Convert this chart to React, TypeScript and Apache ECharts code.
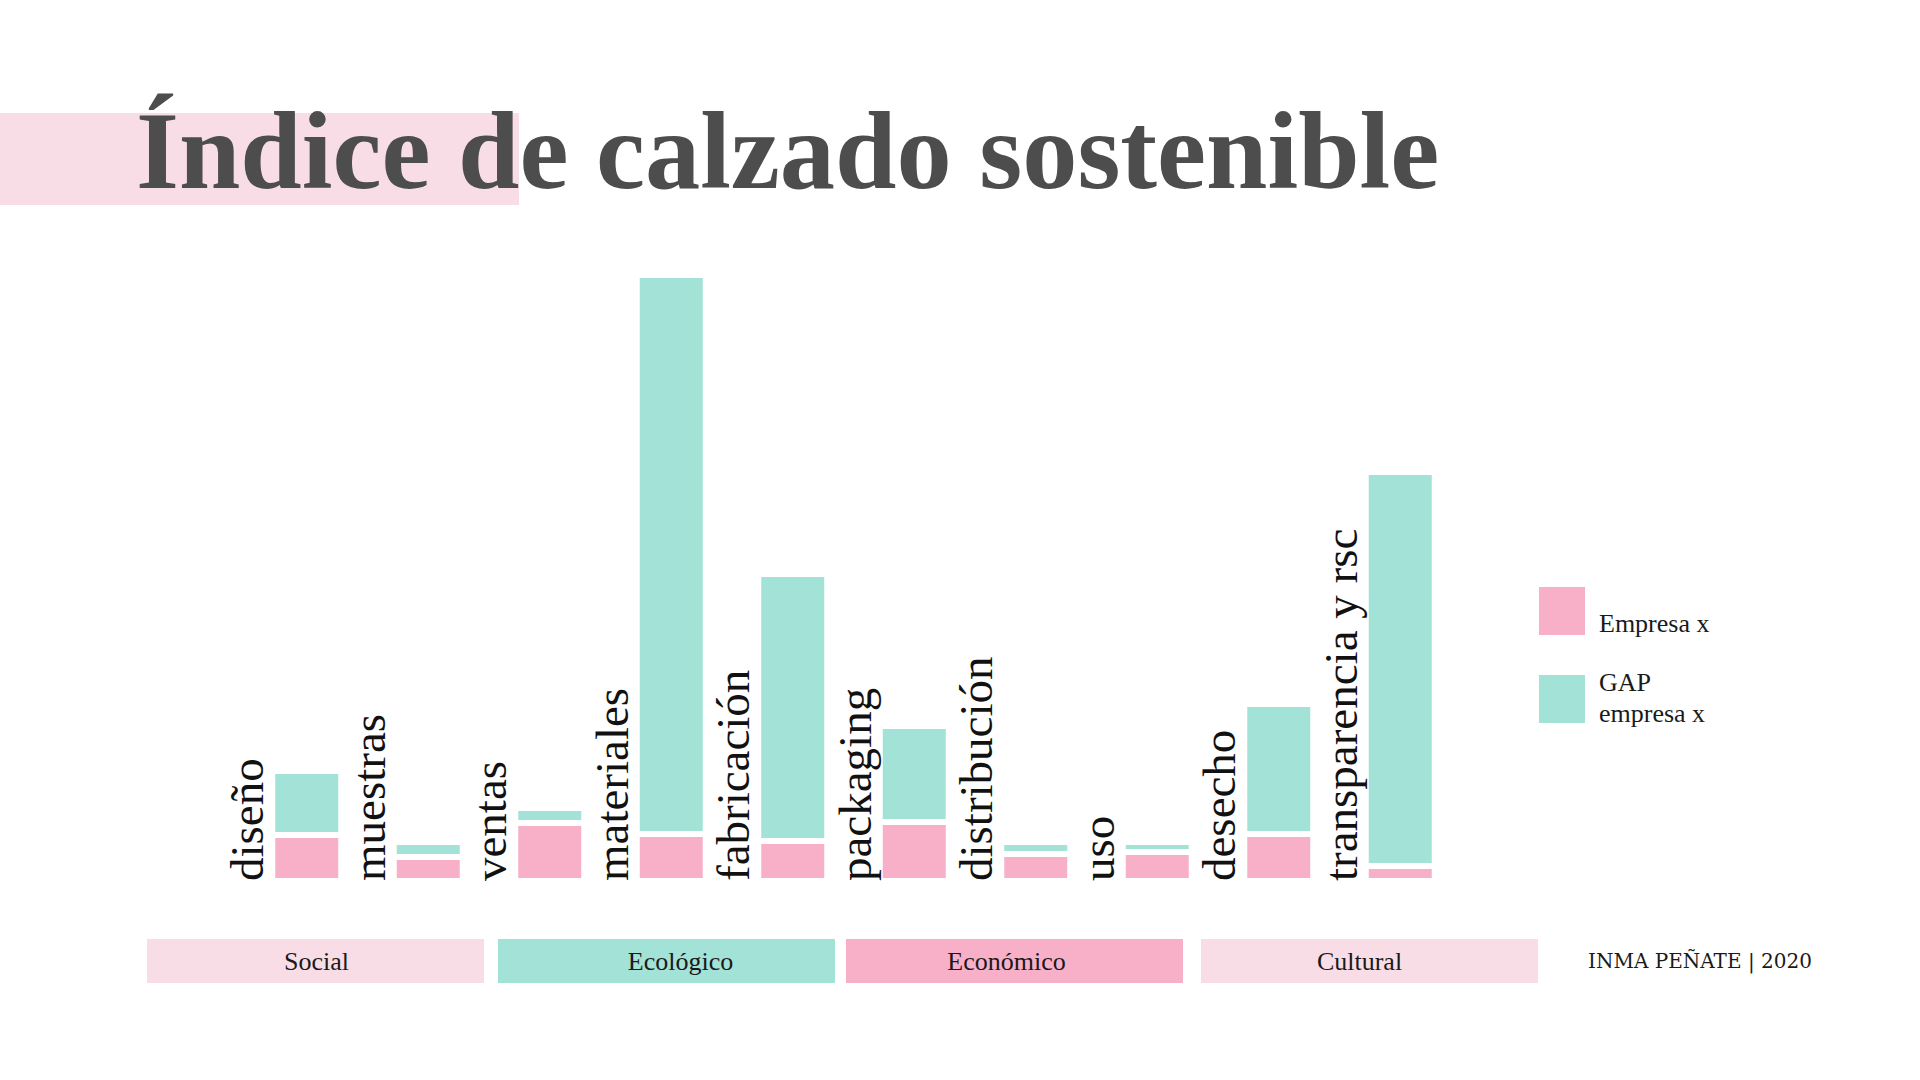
import React, { useEffect, useRef } from "react";
import * as echarts from "echarts";

const categories = [
  "diseño",
  "muestras",
  "ventas",
  "materiales",
  "fabricación",
  "packaging",
  "distribución",
  "uso",
  "desecho",
  "transparencia y rsc",
];
const empresaValues = [4.6, 2.4, 5.8, 4.7, 4.0, 5.9, 2.7, 2.9, 4.7, 1.5];
const gapValues = [6.4, 1.5, 1.5, 55.9, 26.7, 9.6, 1.2, 1.0, 13.0, 39.4];
const seriesNames = ["Empresa x", "GAP empresa x"];
const legendLines = [["Empresa x"], ["GAP", "empresa x"]];
const groupNames = ["Social", "Ecológico", "Económico", "Cultural"];
const titleText = "Índice de calzado sostenible";
const creditText = "INMA PEÑATE | 2020";

const PINK = "#f7b0c8";
const TEAL = "#a3e2d6";
const LIGHT_PINK = "#f9dde6";
const SERIF = '"Liberation Serif", "Times New Roman", serif';

export default function App() {
  const ref = useRef<HTMLDivElement>(null);

  useEffect(() => {
    if (!ref.current) return;
    const chart = echarts.init(ref.current, undefined, { renderer: "svg" });

    const groupBoxes = [
      { x: 147, w: 337, color: LIGHT_PINK, textDx: 1 },
      { x: 498, w: 337, color: TEAL, textDx: 14 },
      { x: 846, w: 337, color: PINK, textDx: -8 },
      { x: 1201, w: 337, color: LIGHT_PINK, textDx: -10 },
    ];

    const graphics: any[] = [
      {
        type: "rect",
        shape: { x: 0, y: 113, width: 519, height: 92 },
        style: { fill: LIGHT_PINK },
        z: 0,
      },
      {
        type: "text",
        x: 136,
        y: 151,
        style: {
          text: titleText,
          font: `bold 110.4px ${SERIF}`,
          fill: "#4d4d4d",
          verticalAlign: "middle",
          align: "left",
        },
        z: 1,
      },
    ];
    groupNames.forEach((g, i) => {
      const b = groupBoxes[i];
      graphics.push({
        type: "rect",
        shape: { x: b.x, y: 939, width: b.w, height: 44 },
        style: { fill: b.color },
        z: 0,
      });
      graphics.push({
        type: "text",
        x: b.x + b.w / 2 + b.textDx,
        y: 961,
        style: {
          text: g,
          font: `26px ${SERIF}`,
          fill: "#1a1a1a",
          align: "center",
          verticalAlign: "middle",
        },
        z: 1,
      });
    });
    graphics.push({
      type: "text",
      x: 1588,
      y: 961,
      style: {
        text: creditText,
        font: `20px "DejaVu Serif", serif`,
        fill: "#1a1a1a",
        align: "left",
        verticalAlign: "middle",
      },
      z: 1,
    });

    // legend (drawn as graphic so the text sits where the reference has it)
    const legendItems = [
      { color: PINK, y: 587, textY: [623] },
      { color: TEAL, y: 675, textY: [682, 713] },
    ];
    legendItems.forEach((it, i) => {
      graphics.push({
        type: "rect",
        shape: { x: 1539, y: it.y, width: 46, height: 48 },
        style: { fill: it.color },
        z: 0,
      });
      legendLines[i].forEach((line, j) => {
        graphics.push({
          type: "text",
          x: 1599,
          y: it.textY[j],
          style: {
            text: line,
            font: `26px ${SERIF}`,
            fill: "#1a1a1a",
            align: "left",
            verticalAlign: "middle",
          },
          z: 1,
        });
      });
    });

    chart.setOption({
      animation: false,
      backgroundColor: "#ffffff",
      grid: { left: 246, right: 459, top: 261, bottom: 199, containLabel: false },
      xAxis: {
        type: "category",
        data: categories,
        axisLine: { show: false },
        axisTick: { show: false },
        axisLabel: { show: false },
        splitLine: { show: false },
      },
      yAxis: {
        type: "value",
        min: 0,
        max: 62,
        show: false,
        splitLine: { show: false },
      },
      graphic: graphics,
      series: [
        {
          name: seriesNames[0],
          type: "bar",
          stack: "total",
          data: empresaValues,
          barWidth: 69,
          itemStyle: { color: PINK, borderColor: "#ffffff", borderWidth: 3 },
          label: {
            show: true,
            formatter: (p: any) => categories[p.dataIndex],
            position: [-25, "100%"],
            rotate: 90,
            align: "left",
            verticalAlign: "middle",
            fontFamily: SERIF,
            fontSize: 47,
            color: "#111111",
          },
        },
        {
          name: seriesNames[1],
          type: "bar",
          stack: "total",
          data: gapValues,
          barWidth: 69,
          itemStyle: { color: TEAL, borderColor: "#ffffff", borderWidth: 3 },
        },
      ],
    });

    return () => chart.dispose();
  }, []);

  return (
    <div
      ref={ref}
      style={{ position: "fixed", left: 0, top: 0, width: 1920, height: 1080, background: "#fff" }}
    />
  );
}
